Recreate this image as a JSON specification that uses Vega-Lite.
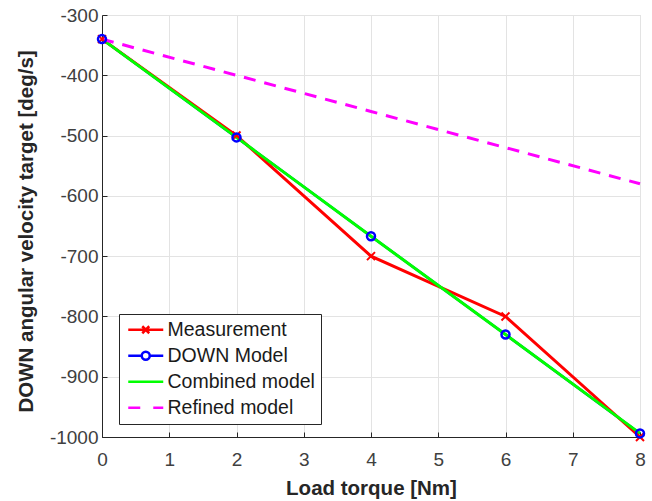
{
  "$schema": "https://vega.github.io/schema/vega-lite/v6.json",
  "width": 538,
  "height": 422,
  "autosize": {"type": "none"},
  "padding": {"left": 102, "top": 15, "right": 12, "bottom": 64},
  "background": "white",
  "config": {
    "font": "Liberation Sans",
    "view": {"stroke": "#d6d6d6", "strokeWidth": 1}
  },
  "data": {
    "values": [
      {"series": "Measurement", "x": 0, "y": -340},
      {"series": "Measurement", "x": 2, "y": -500},
      {"series": "Measurement", "x": 4, "y": -700},
      {"series": "Measurement", "x": 6, "y": -800},
      {"series": "Measurement", "x": 8, "y": -1000},
      {"series": "DOWN Model", "x": 0, "y": -340},
      {"series": "DOWN Model", "x": 2, "y": -503},
      {"series": "DOWN Model", "x": 4, "y": -667},
      {"series": "DOWN Model", "x": 6, "y": -830},
      {"series": "DOWN Model", "x": 8, "y": -994},
      {"series": "Combined model", "x": 0, "y": -340},
      {"series": "Combined model", "x": 2, "y": -503},
      {"series": "Combined model", "x": 4, "y": -667},
      {"series": "Combined model", "x": 6, "y": -830},
      {"series": "Combined model", "x": 8, "y": -994},
      {"series": "Refined model", "x": 0, "y": -340},
      {"series": "Refined model", "x": 2, "y": -400},
      {"series": "Refined model", "x": 4, "y": -460},
      {"series": "Refined model", "x": 6, "y": -520},
      {"series": "Refined model", "x": 8, "y": -580}
    ]
  },
  "encoding": {
    "x": {
      "field": "x", "type": "quantitative",
      "scale": {"domain": [0, 8], "nice": false, "zero": false},
      "axis": {
        "title": "Load torque [Nm]",
        "values": [0, 1, 2, 3, 4, 5, 6, 7, 8],
        "labelExpr": "datum.value + ''",
        "grid": true, "gridColor": "#e3e3e3",
        "domainColor": "#262626", "tickColor": "#262626", "tickSize": -5,
        "labelFontSize": 19, "labelColor": "#404040", "labelPadding": 18,
        "labelFlush": false,
        "titleFontSize": 20.5, "titleFontWeight": "bold", "titleColor": "#262626",
        "titleX": 269, "titleY": 51, "titleBaseline": "middle"
      }
    },
    "y": {
      "field": "y", "type": "quantitative",
      "scale": {"domain": [-1000, -300], "nice": false, "zero": false},
      "axis": {
        "title": "DOWN angular velocity target [deg/s]",
        "values": [-1000, -900, -800, -700, -600, -500, -400, -300],
        "labelExpr": "datum.value + ''",
        "grid": true, "gridColor": "#e3e3e3",
        "domainColor": "#262626", "tickColor": "#262626", "tickSize": -5,
        "labelFontSize": 19, "labelColor": "#404040", "labelPadding": 9,
        "labelFlush": false,
        "titleFontSize": 20.5, "titleFontWeight": "bold", "titleColor": "#262626",
        "titleX": -76, "titleY": 216, "titleBaseline": "middle", "titleAngle": -90, "titleAlign": "center"
      }
    },
    "color": {
      "field": "series", "type": "nominal",
      "scale": {
        "domain": ["Measurement", "DOWN Model", "Combined model", "Refined model"],
        "range": ["#ff0000", "#0000ff", "#00ff00", "#ff00ff"]
      },
      "legend": {
        "orient": "none", "legendX": 17, "legendY": 299,
        "title": null,
        "strokeColor": "#262626", "fillColor": "white",
        "padding": 6, "rowPadding": 5,
        "labelFontSize": 19.5, "labelColor": "#1a1a1a", "labelFont": "Liberation Sans",
        "symbolSize": 100, "symbolStrokeWidth": 2.5, "symbolOffset": 11, "labelOffset": 12,
        "symbolFillColor": "transparent", "symbolOpacity": 1,
        "encode": {
          "symbols": {
            "update": {
              "shape": {"signal": "datum.value === 'Measurement' ? 'M-3.5,0H3.5M-0.7,-0.7L0.7,0.7M-0.7,0.7L0.7,-0.7' : datum.value === 'DOWN Model' ? 'M-3.5,0H-0.8M0.8,0H3.5M0.8,0A0.8,0.8,0,1,1,-0.8,0A0.8,0.8,0,1,1,0.8,0' : datum.value === 'Combined model' ? 'M-3.5,0H3.5' : 'M-3.5,0H-1.1M1.5,0H3.5'"},
              "fill": {"value": "transparent"},
              "strokeDash": {"value": []}
            }
          }
        }
      }
    }
  },
  "layer": [
    {
      "transform": [{"filter": "datum.series === 'DOWN Model'"}],
      "mark": {"type": "line", "strokeWidth": 2.5}
    },
    {
      "transform": [{"filter": "datum.series === 'Measurement'"}],
      "mark": {"type": "line", "strokeWidth": 3}
    },
    {
      "transform": [{"filter": "datum.series === 'Combined model'"}],
      "mark": {"type": "line", "strokeWidth": 3}
    },
    {
      "transform": [{"filter": "datum.series === 'Refined model'"}],
      "mark": {"type": "line", "strokeWidth": 3, "strokeDash": [12, 9]}
    },
    {
      "transform": [{"filter": "datum.series === 'Measurement'"}],
      "mark": {"type": "point", "shape": "M-1,-1L1,1M-1,1L1,-1", "filled": false, "size": 64, "strokeWidth": 2, "opacity": 1}
    },
    {
      "transform": [{"filter": "datum.series === 'DOWN Model'"}],
      "mark": {"type": "point", "shape": "circle", "filled": false, "size": 64, "strokeWidth": 2.5, "opacity": 1}
    }
  ]
}
